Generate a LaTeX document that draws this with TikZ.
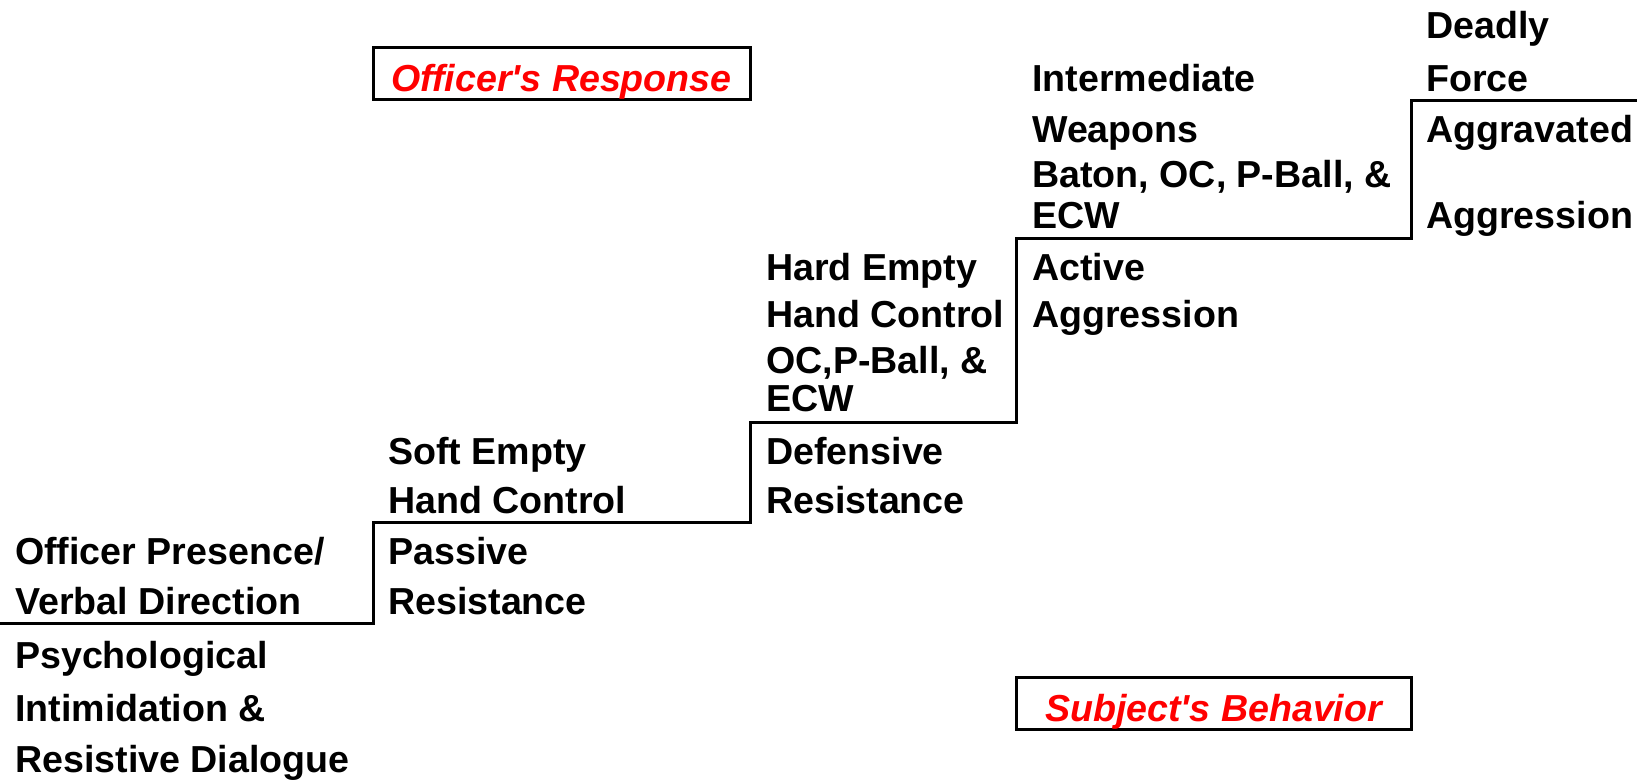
\documentclass[tikz,border=0pt]{standalone}
\usepackage{fontspec}
\setmainfont{Liberation Sans}

\begin{document}
\begin{tikzpicture}[x=1pt,y=-1pt,
  txt/.style={anchor=base west,inner sep=0pt,font=\fontsize{37.6}{44}\selectfont\bfseries},
  tag/.style={draw,line width=3pt,minimum height=52pt,inner sep=0pt,text height=36pt,text depth=0pt,
    text=red,font=\fontsize{37.6}{44}\selectfont\bfseries\itshape}]
\useasboundingbox (0,0) rectangle (1637,782);
% the steps
\draw[line width=3pt] (0,623) -| (373,522) -| (750,422) -| (1016,238) -| (1411,100) -- (1637,100);
\node[tag,minimum width=377pt] (resp) at (561.5,73.5) {Officer\textquotesingle s Response};
\node[tag,minimum width=395pt] (behav) at (1213.5,703.5) {Subject\textquotesingle s Behavior};
% officer's response
\node[txt] (o1a) at (15,564) {Officer Presence/};
\node[txt] (o1b) at (15,614) {Verbal Direction};
\node[txt] (o2a) at (388,464) {Soft Empty};
\node[txt] (o2b) at (388,513) {Hand Control};
\node[txt] (o3a) at (766,280) {Hard Empty};
\node[txt] (o3b) at (766,327) {Hand Control};
\node[txt] (o3c) at (766,373) {OC,P-Ball, \&};
\node[txt] (o3d) at (766,411) {ECW};
\node[txt] (o4a) at (1032,91) {Intermediate};
\node[txt] (o4b) at (1032,142) {Weapons};
\node[txt] (o4c) at (1032,187) {Baton, OC, P-Ball, \&};
\node[txt] (o4d) at (1032,228) {ECW};
\node[txt] (o5a) at (1426,38) {Deadly};
\node[txt] (o5b) at (1426,91) {Force};
% subject's behavior
\node[txt] (s1a) at (15,668) {Psychological};
\node[txt] (s1b) at (15,721) {Intimidation \&};
\node[txt] (s1c) at (15,772) {Resistive Dialogue};
\node[txt] (s2a) at (388,564) {Passive};
\node[txt] (s2b) at (388,614) {Resistance};
\node[txt] (s3a) at (766,464) {Defensive};
\node[txt] (s3b) at (766,513) {Resistance};
\node[txt] (s4a) at (1032,280) {Active};
\node[txt] (s4b) at (1032,327) {Aggression};
\node[txt] (s5a) at (1426,142) {Aggravated};
\node[txt] (s5b) at (1426,228) {Aggression};
\end{tikzpicture}
\end{document}
